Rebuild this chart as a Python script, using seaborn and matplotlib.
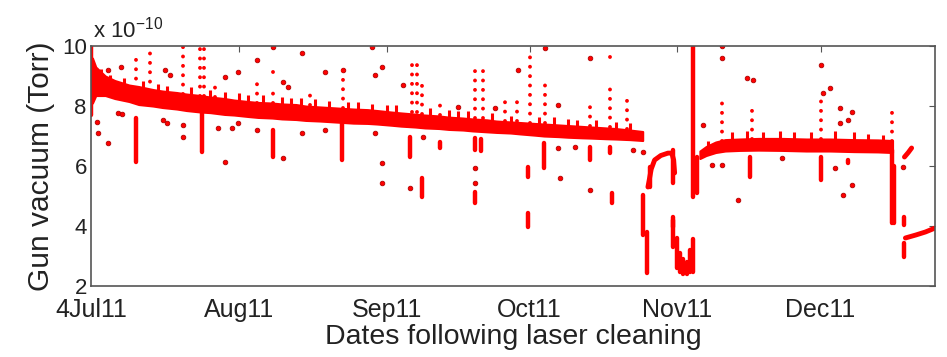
import numpy as np
import pandas as pd
import matplotlib
matplotlib.use("Agg")
import matplotlib.pyplot as plt
import seaborn as sns

# gun vacuum, units of 1e-10 Torr; x = days after 1 Jul 2011
START = pd.Timestamp("2011-07-01")

# main band (lower / upper edge of the dense cloud of readings)
band1_day = [0.3, 1, 3, 5, 8, 10, 13, 15, 18, 20, 23, 25, 28, 30, 33, 35, 38, 40, 43, 45,
             48, 50, 53, 55, 58, 60, 63, 65, 68, 70, 73, 75, 78, 80, 83, 85, 88, 90, 93, 95,
             98, 100, 103, 105, 108, 110, 113, 115.7]
band1_low = [8.1, 8.35, 8.35, 8.25, 8.15, 8.05, 8.0, 7.95, 7.9, 7.85, 7.8, 7.78, 7.72, 7.7,
             7.65, 7.62, 7.6, 7.57, 7.55, 7.52, 7.5, 7.48, 7.45, 7.43, 7.42, 7.4, 7.36, 7.33,
             7.3, 7.27, 7.25, 7.22, 7.2, 7.17, 7.14, 7.12, 7.1, 7.07, 7.03, 7.0, 6.98, 6.96,
             6.94, 6.93, 6.91, 6.9, 6.88, 6.85]
band1_high = [9.6, 9.3, 9.0, 8.85, 8.7, 8.65, 8.55, 8.5, 8.45, 8.4, 8.35, 8.3, 8.25, 8.2,
              8.15, 8.12, 8.1, 8.07, 8.05, 8.0, 7.97, 7.95, 7.92, 7.9, 7.88, 7.85, 7.8, 7.77,
              7.73, 7.7, 7.67, 7.63, 7.6, 7.57, 7.54, 7.5, 7.47, 7.45, 7.42, 7.4, 7.37, 7.35,
              7.32, 7.3, 7.27, 7.25, 7.2, 7.15]

band2_day = [127.7, 129, 131, 133, 136, 140, 145, 150, 155, 160, 165, 168.1]
band2_low = [6.25, 6.35, 6.45, 6.5, 6.52, 6.53, 6.52, 6.5, 6.5, 6.48, 6.47, 6.45]
band2_high = [6.5, 6.65, 6.8, 6.88, 6.9, 6.92, 6.92, 6.9, 6.9, 6.88, 6.87, 6.85]

# small daily bumps on top of the band
teeth_day = [2, 4, 7, 11, 14, 16, 21, 25, 28, 31, 33, 36, 40, 42, 44, 47, 50, 54, 56, 59,
             62, 64, 71, 75, 77, 79, 84, 88, 94, 97, 100, 102, 106, 110, 113,
             129.5, 134.5, 137.5, 141, 144.5, 147.5, 151, 156, 160, 163, 166]
teeth_top = [9.25, 9.05, 8.95, 8.85, 8.72, 8.68, 8.62, 8.52, 8.47, 8.42, 8.37, 8.37, 8.3, 8.27,
             8.27, 8.22, 8.17, 8.12, 8.12, 8.07, 8.02, 8.02, 7.92, 7.87, 7.82, 7.82, 7.77, 7.67,
             7.62, 7.62, 7.57, 7.52, 7.52, 7.47, 7.42,
             6.85, 7.12, 7.17, 7.12, 7.17, 7.12, 7.12, 7.17, 7.12, 7.07, 7.02]

# dense excursions (bake-outs, gun HV events)
streak_day = [0, 9.4, 23.3, 38.2, 52.6, 66.9, 69.4, 73.2, 80.5, 81.8, 80.5, 91.6, 91.6,
              95.0, 104.6, 108.8, 109.2, 115.7, 116.6, 117.2, 122.0, 122.0, 122.0,
              122.8, 123.5, 124.2, 125.0, 125.6, 126.2, 126.2, 127.0, 138.2, 153.2,
              158.7, 167.9, 168.4, 170.6, 170.6]
streak_lo = [7.7, 6.13, 6.47, 6.3, 6.2, 6.3, 4.97, 6.6, 4.77, 6.5, 6.53, 5.63, 3.97,
             5.93, 6.2, 6.43, 4.77, 3.7, 2.43, 5.3, 5.43, 3.97, 3.3,
             2.6, 2.45, 2.4, 2.4, 2.45, 2.45, 4.97, 5.1, 5.63, 5.53,
             6.1, 4.1, 4.1, 4.03, 2.97]
streak_hi = [10.0, 7.6, 7.77, 7.2, 7.43, 6.97, 5.6, 6.8, 5.13, 6.9, 6.93, 5.97, 4.43,
             6.77, 6.63, 6.63, 5.1, 5.03, 3.8, 5.97, 6.53, 4.3, 4.2,
             3.6, 3.1, 2.9, 2.8, 3.2, 3.55, 10.0, 6.3, 6.3, 6.3,
             6.2, 6.53, 6.0, 4.3, 3.43]

# sparse upward spikes (dotted columns of readings)
spike_day = [9.4, 12.4, 19.3, 22.8, 23.8, 26.0, 34.8, 38.2, 38.2, 45.9, 52.8, 67.3, 68.3,
             69.4, 73.2, 80.5, 82.2, 86.8, 89.3, 92.0, 95.2, 104.6, 108.8, 108.8, 112.4,
             132.3, 138.6, 153.2, 167.9]
spike_lo = [8.6, 8.5, 8.4, 8.35, 8.35, 8.3, 8.1, 8.1, 9.13, 8.05, 7.95, 7.8, 7.8,
            7.75, 7.7, 7.6, 7.6, 7.5, 7.5, 7.45, 7.42, 7.35, 7.3, 9.63, 7.25,
            6.85, 6.9, 6.9, 6.85]
spike_hi = [9.77, 9.77, 10.0, 10.0, 10.0, 8.7, 9.03, 8.63, 9.43, 8.6, 9.47, 9.53, 9.6,
            8.93, 8.2, 9.47, 9.4, 8.37, 8.13, 9.87, 8.93, 8.13, 8.6, 9.87, 8.3,
            8.1, 8.03, 8.3, 7.93]

# isolated readings
dot_day = [1.3, 1.5, 3.6, 5.7, 6.5, 6.3, 3.6, 15.5, 16.6, 15.1, 15.9, 19.3, 19.3, 26.6,
           29.6, 28.1, 28.1, 30.8, 30.8, 34.8, 34.8, 38.2, 40.3, 40.3, 41.3, 44.2, 44.2,
           49.1, 49.1, 52.8, 58.9, 59.5, 59.5, 61.0, 61.0, 61.0, 65.4, 66.9, 69.6, 76.9,
           80.5, 80.5, 84.7, 89.5, 95.2, 97.9, 97.9, 98.3, 101.5, 104.6, 104.6, 113.6,
           115.7, 128.3, 130.2, 132.3, 132.3, 132.3, 135.6, 137.5, 138.8, 144.9, 153.2,
           153.5, 154.9, 156.0, 157.0, 157.0, 159.5, 158.7, 159.5, 157.7, 170.2]
dot_val = [7.47, 7.1, 6.77, 7.77, 7.73, 9.3, 9.2, 9.2, 9.03, 7.53, 7.43, 7.37, 6.97, 7.27,
           7.27, 6.13, 8.97, 9.13, 7.43, 9.53, 7.2, 9.97, 6.27, 8.8, 8.63, 9.77, 7.1,
           9.13, 7.2, 9.2, 9.97, 9.03, 7.1, 9.3, 6.1, 5.43, 8.7, 5.27, 6.97, 7.97,
           5.93, 5.43, 7.93, 9.2, 9.93, 8.03, 6.6, 5.6, 6.63, 9.6, 5.2, 6.53,
           6.47, 7.37, 6.03, 6.03, 10.0, 9.6, 4.87, 8.93, 8.87, 6.27, 9.37,
           8.43, 8.6, 5.93, 7.93, 7.43, 7.8, 7.53, 5.37, 5.03, 5.97]

# recovery curves after the late-October / December events
hook_day = [116.8, 117.5, 118.2, 119.5, 121.0, 121.8, 122.2, 122.4]
hook_val = [5.3, 5.9, 6.2, 6.35, 6.43, 6.43, 6.2, 5.77]
kink_day = [170.6, 171.4, 172.1]
kink_val = [6.3, 6.45, 6.6]
tail_day = [170.8, 173.0, 175.0, 177.0]
tail_val = [3.6, 3.7, 3.8, 3.93]

month_ticks = ["2011-07-01", "2011-08-01", "2011-09-01", "2011-10-01", "2011-11-01", "2011-12-01"]
month_labels = ["4Jul11", "Aug11", "Sep11", "Oct11", "Nov11", "Dec11"]


def to_date(days):
    return START + pd.to_timedelta(np.asarray(days, dtype=float), unit="D")


sns.set_style("white")
plt.rcParams["font.family"] = ["Liberation Sans", "DejaVu Sans"]
plt.rcParams["mathtext.fontset"] = "custom"
plt.rcParams["mathtext.rm"] = "Liberation Sans"

RED = "#ff0000"
DARK = "#b00000"

fig = plt.figure(figsize=(9.47, 3.57), dpi=100)
ax = fig.add_axes([0.0961, 0.199, 0.8912, 0.672])

ax.fill_between(to_date(band1_day), band1_low, band1_high, color=RED, lw=1.5, ec=RED)
ax.fill_between(to_date(band2_day), band2_low, band2_high, color=RED, lw=1.5, ec=RED)
ax.vlines(to_date(teeth_day), np.array(teeth_top) - 0.35, teeth_top, color=RED, lw=2.2)
ax.vlines(to_date(streak_day), streak_lo, streak_hi, color=RED, lw=3.2, capstyle="round")
ax.vlines(to_date(spike_day), spike_lo, spike_hi, color=RED, lw=2.8,
          linestyles=[(0, (0.01, 2.4))], capstyle="round")

for d, v in [(hook_day, hook_val), (kink_day, kink_val), (tail_day, tail_val)]:
    sns.lineplot(x=to_date(d), y=v, ax=ax, color=RED, lw=3.5, solid_capstyle="round",
                 estimator=None)

dots = pd.DataFrame({"date": to_date(dot_day), "vac": dot_val})
sns.scatterplot(data=dots, x="date", y="vac", ax=ax, color=RED, edgecolor=DARK,
                s=11, linewidth=0.6)

ax.set_xlim(START, START + pd.Timedelta(days=177))
ax.set_ylim(2, 10)
ax.set_xticks(pd.to_datetime(month_ticks))
ax.set_xticklabels(month_labels)
ax.set_yticks([2, 4, 6, 8, 10])
ax.tick_params(axis="x", labelsize=18, pad=9)
ax.tick_params(axis="y", labelsize=16, pad=3)
ax.tick_params(direction="in", length=4, width=0.8, color="#555555",
               top=True, right=True, labelcolor="#222222")
for s in ax.spines.values():
    s.set_color("#555555")
    s.set_linewidth(1.2)

ax.set_xlabel("Dates following laser cleaning", fontsize=20.5, color="#222222", labelpad=1)
ax.set_ylabel("Gun vacuum (Torr)", fontsize=21.5, color="#222222", labelpad=5)
ax.text(0.002, 1.015, r"x 10$^{-10}$", transform=ax.transAxes, fontsize=16,
        color="#222222", va="bottom", ha="left")

fig.savefig("out.png", dpi=100)
